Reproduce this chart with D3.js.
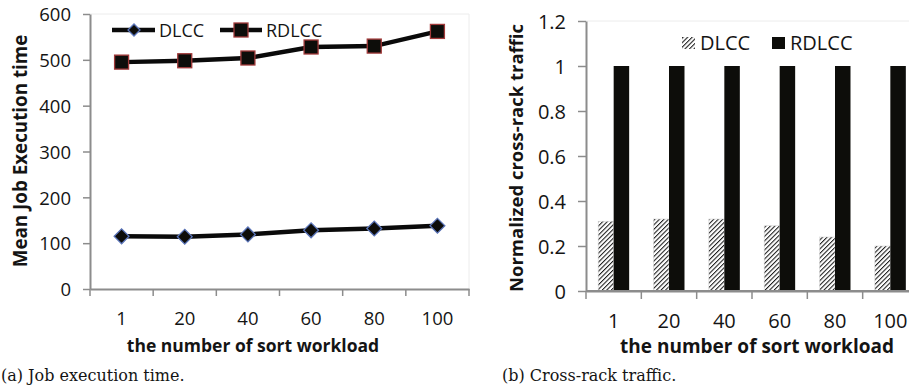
<!DOCTYPE html>
<html><head><meta charset="utf-8">
<script src="https://cdn.jsdelivr.net/npm/d3@7"></script>
<style>
body{margin:0;background:#fff;}
svg{display:block;}
</style></head>
<body>
<svg id="chart" width="909" height="392"></svg>
<script>
// ---- data ----
const categories = ["1","20","40","60","80","100"];
const seriesNames = ["DLCC","RDLCC"];
const jobTimeDLCC = [115,114,119,128,132,138];
const jobTimeRDLCC = [495,498,504,528,530,562];
const trafficDLCC = [0.31,0.32,0.32,0.29,0.24,0.20];
const trafficRDLCC = [1,1,1,1,1,1];
const jobTicks = [0,100,200,300,400,500,600];
const trafficTicks = [0,0.2,0.4,0.6,0.8,1,1.2];
const trafficTickLabels = ["0","0.2","0.4","0.6","0.8","1","1.2"];

const svg = d3.select("#chart");
const FONT = "'Open Sans', sans-serif";
const AXIS = "#8c8c8c";
const INK = "#141414";

const defs = svg.append("defs");
const pat = defs.append("pattern").attr("id","hatch")
  .attr("patternUnits","userSpaceOnUse").attr("width",3.2).attr("height",3.2)
  .attr("patternTransform","rotate(45)");
pat.append("rect").attr("width",3.2).attr("height",3.2).attr("fill","#fff");
pat.append("line").attr("x1",0).attr("y1",0).attr("x2",0).attr("y2",3.2)
  .attr("stroke","#1a1a1a").attr("stroke-width",2.1);

function diamond(sel, s){
  sel.append("rect").attr("x",-s/2).attr("y",-s/2).attr("width",s).attr("height",s)
    .attr("transform","rotate(45)")
    .attr("fill","#0d0d0a").attr("stroke","#5a74b8").attr("stroke-width",1.3);
}

// ===== Left chart =====
(function(){
  const L = 90, R = 469, T = 14, B = 289;
  const x = d3.scaleBand().domain(categories).range([L,R]);
  const y = d3.scaleLinear().domain([0,600]).range([B,T]);
  const g = svg.append("g");
  g.append("line").attr("x1",L).attr("x2",R).attr("y1",T).attr("y2",T).attr("stroke","#ececec");
  g.append("line").attr("x1",R).attr("x2",R).attr("y1",T).attr("y2",B).attr("stroke","#ececec");
  const ya = g.append("g").attr("transform",`translate(${L},0)`)
    .call(d3.axisLeft(y).tickValues(jobTicks).tickSize(7).tickPadding(12).tickSizeOuter(0));
  ya.select(".domain").attr("stroke",AXIS).attr("stroke-width",2);
  ya.selectAll(".tick line").attr("stroke",AXIS).attr("stroke-width",1.5);
  ya.selectAll("text").attr("font-family",FONT).attr("font-size",18.5).attr("fill",INK).attr("dy","0.36em");
  const xa = g.append("g").attr("transform",`translate(0,${B})`)
    .call(d3.axisBottom(x).tickSize(0).tickPadding(23));
  xa.select(".domain").attr("stroke",AXIS).attr("stroke-width",2);
  xa.selectAll("text").attr("font-family",FONT).attr("font-size",18.5).attr("fill",INK);
  const bounds = categories.map(c=>x(c)).concat([R]);
  g.selectAll(".xt").data(bounds).enter().append("line")
    .attr("x1",d=>d).attr("x2",d=>d).attr("y1",B).attr("y2",B+7)
    .attr("stroke",AXIS).attr("stroke-width",1.5);
  const cx = c => x(c)+x.bandwidth()/2;
  const line = d3.line().x((d,i)=>cx(categories[i])).y(d=>y(d));
  g.append("path").attr("d",line(jobTimeRDLCC)).attr("fill","none").attr("stroke","#0a0a0a").attr("stroke-width",4.5);
  g.append("path").attr("d",line(jobTimeDLCC)).attr("fill","none").attr("stroke","#0a0a0a").attr("stroke-width",4.5);
  g.selectAll(".sq").data(jobTimeRDLCC).enter().append("rect")
    .attr("x",(d,i)=>cx(categories[i])-7).attr("y",d=>y(d)-7).attr("width",14).attr("height",14)
    .attr("fill","#0d0d0a").attr("stroke","#a23a3a").attr("stroke-width",1.3);
  g.selectAll(".dm").data(jobTimeDLCC).enter().append("g")
    .attr("transform",(d,i)=>`translate(${cx(categories[i])},${y(d)})`)
    .each(function(){ diamond(d3.select(this), 10.5); });
  // legend
  const lg = g.append("g");
  lg.append("line").attr("x1",112).attr("x2",155).attr("y1",30).attr("y2",30).attr("stroke","#0a0a0a").attr("stroke-width",4.5);
  diamond(lg.append("g").attr("transform","translate(134,30)"), 8.5);
  lg.append("text").attr("x",159).attr("y",36.5).text(seriesNames[0]).attr("font-family",FONT).attr("font-size",18).attr("fill",INK);
  lg.append("line").attr("x1",220).attr("x2",262).attr("y1",30).attr("y2",30).attr("stroke","#0a0a0a").attr("stroke-width",4.5);
  lg.append("rect").attr("x",234).attr("y",23).attr("width",14).attr("height",14)
    .attr("fill","#0d0d0a").attr("stroke","#a23a3a").attr("stroke-width",1.3);
  lg.append("text").attr("x",266).attr("y",36.5).text(seriesNames[1]).attr("font-family",FONT).attr("font-size",18).attr("fill",INK);
  g.append("text").attr("transform","translate(27,151) rotate(-90)").attr("text-anchor","middle")
    .attr("font-family",FONT).attr("font-weight","bold").attr("font-size",18.8).attr("fill",INK)
    .text("Mean Job Execution time");
  g.append("text").attr("x",253).attr("y",352).attr("text-anchor","middle")
    .attr("font-family",FONT).attr("font-weight","bold").attr("font-size",17.5).attr("fill",INK)
    .text("the number of sort workload");
  g.append("text").attr("x",1).attr("y",381)
    .attr("font-family","'DejaVu Serif', serif").attr("font-size",16).attr("fill",INK)
    .text("(a) Job execution time.");
})();

// ===== Right chart =====
(function(){
  const L = 586, R = 918, T = 21, B = 291;
  const x0 = d3.scaleBand().domain(categories).range([L,R]).paddingInner(0.44).paddingOuter(0.22);
  const x1 = d3.scaleBand().domain(seriesNames).range([0,x0.bandwidth()]);
  const y = d3.scaleLinear().domain([0,1.2]).range([B,T]);
  const g = svg.append("g");
  g.append("line").attr("x1",L).attr("x2",R).attr("y1",T).attr("y2",T).attr("stroke","#ececec");
  const ya = g.append("g").attr("transform",`translate(${L},0)`)
    .call(d3.axisLeft(y).tickValues(trafficTicks).tickFormat((d,i)=>trafficTickLabels[i]).tickSize(8).tickPadding(12).tickSizeOuter(0));
  ya.select(".domain").attr("stroke",AXIS).attr("stroke-width",2);
  ya.selectAll(".tick line").attr("stroke",AXIS).attr("stroke-width",1.5);
  ya.selectAll("text").attr("font-family",FONT).attr("font-size",20).attr("fill",INK).attr("dy","0.36em");
  const xs = d3.scaleBand().domain(categories).range([L,R]);
  const xa = g.append("g").attr("transform",`translate(0,${B})`)
    .call(d3.axisBottom(xs).tickSize(0).tickPadding(23));
  xa.select(".domain").attr("stroke",AXIS).attr("stroke-width",2);
  xa.selectAll("text").attr("font-family",FONT).attr("font-size",20).attr("fill",INK);
  const bounds = categories.map(c=>xs(c));
  g.selectAll(".xt").data(bounds).enter().append("line")
    .attr("x1",d=>d).attr("x2",d=>d).attr("y1",B).attr("y2",B+8)
    .attr("stroke",AXIS).attr("stroke-width",1.5);
  g.selectAll(".bd").data(trafficDLCC).enter().append("rect")
    .attr("x",(d,i)=>x0(categories[i])+x1("DLCC")).attr("y",d=>y(d))
    .attr("width",x1.bandwidth()).attr("height",d=>B-y(d))
    .attr("fill","url(#hatch)").attr("stroke","#d8d8d8").attr("stroke-width",0.6);
  g.selectAll(".br").data(trafficRDLCC).enter().append("rect")
    .attr("x",(d,i)=>x0(categories[i])+x1("RDLCC")).attr("y",d=>y(d))
    .attr("width",x1.bandwidth()).attr("height",d=>B-y(d))
    .attr("fill","#0d0d0a");
  g.append("line").attr("x1",L).attr("x2",R).attr("y1",B).attr("y2",B).attr("stroke",AXIS).attr("stroke-width",2);
  // legend
  g.append("rect").attr("x",682).attr("y",37).attr("width",13).attr("height",12).attr("fill","url(#hatch)");
  g.append("text").attr("x",700).attr("y",49.5).text(seriesNames[0]).attr("font-family",FONT).attr("font-size",20).attr("fill",INK);
  g.append("rect").attr("x",772).attr("y",37).attr("width",13).attr("height",12).attr("fill","#0d0d0a");
  g.append("text").attr("x",790).attr("y",49.5).text(seriesNames[1]).attr("font-family",FONT).attr("font-size",20).attr("fill",INK);
  g.append("text").attr("transform","translate(523,158) rotate(-90)").attr("text-anchor","middle")
    .attr("font-family",FONT).attr("font-weight","bold").attr("font-size",18.5).attr("fill",INK)
    .text("Normalized cross-rack traffic");
  g.append("text").attr("x",757).attr("y",353).attr("text-anchor","middle")
    .attr("font-family",FONT).attr("font-weight","bold").attr("font-size",19).attr("fill",INK)
    .text("the number of sort workload");
  g.append("text").attr("x",502).attr("y",381)
    .attr("font-family","'DejaVu Serif', serif").attr("font-size",16).attr("fill",INK)
    .text("(b) Cross-rack traffic.");
})();
</script>
</body></html>
